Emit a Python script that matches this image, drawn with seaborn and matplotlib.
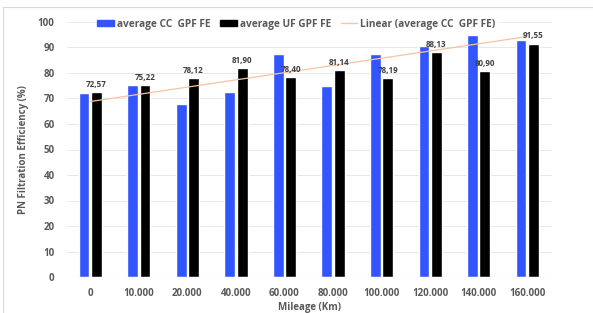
import numpy as np
import pandas as pd
import seaborn as sns
import matplotlib.pyplot as plt
from matplotlib.patches import Rectangle
from matplotlib.lines import Line2D
from matplotlib.patches import Patch

mileage = ["0", "10.000", "20.000", "40.000", "60.000", "80.000",
           "100.000", "120.000", "140.000", "160.000"]
cc_gpf = [72.2, 75.3, 67.8, 72.5, 87.3, 75.0, 87.3, 90.5, 94.8, 92.8]
uf_gpf = [72.57, 75.22, 78.12, 81.90, 78.40, 81.14, 78.19, 88.13, 80.90, 91.55]
uf_labels = ["72,57", "75,22", "78,12", "81,90", "78,40", "81,14",
             "78,19", "88,13", "80,90", "91,55"]

series_names = ["average CC  GPF FE", "average UF GPF FE"]
colors = ["#3355ff", "#000000"]
grey = "#595959"
trend_col = "#f7c3a0"

df = pd.DataFrame({
    "Mileage": mileage * 2,
    "FE": cc_gpf + uf_gpf,
    "Series": [series_names[0]] * len(mileage) + [series_names[1]] * len(mileage),
})

sns.set_style("white")
plt.rcParams["font.family"] = ["Open Sans", "DejaVu Sans"]

fig = plt.figure(figsize=(5.93, 3.13), dpi=100)
ax = fig.add_axes([67 / 593, 1 - 277 / 313, (552 - 67) / 593, (277 - 22) / 313])

sns.barplot(data=df, x="Mileage", y="FE", hue="Series", palette=colors,
            width=0.51, gap=0.13, saturation=1, ax=ax, legend=False)

# linear trendline of the CC series
xs = np.arange(len(mileage))
k, b = np.polyfit(xs, cc_gpf, 1)
ax.plot(xs, k * xs + b, color=trend_col, lw=0.9, zorder=3)

# data labels on the UF bars
uf_bars = ax.containers[1]
for bar, lab in zip(uf_bars, uf_labels):
    ax.text(bar.get_x() + bar.get_width() / 2, bar.get_height() + 1.2, lab,
            ha="center", va="bottom", fontsize=5.8, fontweight="bold", color="#404040")

ax.set_ylim(0, 100)
ax.set_xlim(-0.48, 9.51)
ax.set_yticks(range(0, 101, 10))
ax.grid(axis="y", color="#e8e8e8", lw=0.7)
ax.set_axisbelow(True)
for s in ax.spines.values():
    s.set_visible(False)
ax.axhline(0, color="#d9d9d9", lw=0.8, zorder=1)
ax.tick_params(axis="both", length=0, labelsize=7, labelcolor=grey)
ax.tick_params(axis="y", pad=9)
ax.tick_params(axis="x", pad=8)
for t in ax.get_xticklabels() + ax.get_yticklabels():
    t.set_fontweight("bold")

ax.set_xlabel("Mileage (Km)", fontsize=7, fontweight="bold", color=grey, labelpad=2)
ax.set_ylabel("PN Filtration Efficiency (%)", fontsize=7, fontweight="bold", color=grey, labelpad=6)

handles = [Patch(color=colors[0]), Patch(color=colors[1]),
           Line2D([0], [0], color=trend_col, lw=1.0)]
labels = series_names + ["Linear (average CC  GPF FE)"]
leg = fig.legend(handles, labels, loc="center", bbox_to_anchor=(0.5, 1 - 24 / 313),
                 ncol=3, frameon=True, fontsize=7.3, handlelength=1.6, handleheight=0.6,
                 columnspacing=1.0, handletextpad=0.3, borderpad=0.2)
leg.get_frame().set_facecolor("white")
leg.get_frame().set_edgecolor("white")
leg.get_frame().set_alpha(1)
for t in leg.get_texts():
    t.set_fontweight("bold")
    t.set_color(grey)

# outer chart border
fig.patches.append(Rectangle((3 / 593, -0.1), 1.2, 1.1 - 7 / 313,
                             transform=fig.transFigure, fill=False,
                             edgecolor="#d9d9d9", lw=0.8))

fig.savefig("out.png", dpi=100)
